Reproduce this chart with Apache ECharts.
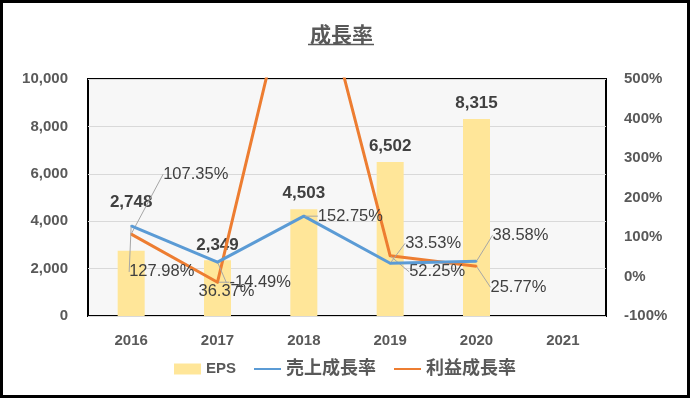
<!DOCTYPE html>
<html>
<head>
<meta charset="utf-8">
<script src="https://cdn.jsdelivr.net/npm/echarts@6/dist/echarts.min.js"></script>
<style>
  html, body { margin: 0; padding: 0; background: #fff; }
  #growthChart { width: 690px; height: 398px; }
</style>
</head>
<body>
<div id="growthChart"></div>
<script>
  // データ
  const years = ['2016', '2017', '2018', '2019', '2020', '2021']
  const eps = [2748, 2349, 4503, 6502, 8315, null]
  const salesGrowth = [127.98, 36.37, 152.75, 33.53, 38.58, null]
  const profitGrowth = [107.35, -14.49, 900, 52.25, 25.77, null]

  const FONT = "'Liberation Sans', 'Noto Sans CJK JP', sans-serif"
  const AXIS_COLOR = '#595959'
  const LABEL_COLOR = '#404040'

  // ラベル位置の調整 (Excel で手動移動されたもの)
  const barLabelShift = [[0, -33], [0, 0], [0, 0], [0, 0], [0, 0]]
  const salesLabelShift = [[-8, 46], [-25, 29], [8, 0], [9, -20], [10, -26]]
  const profitLabelShift = [[26, -60], [6, 0], [0, 0], [13, 16], [8, 21]]

  function shiftBy(table) {
    return function (params) {
      const s = table[params.dataIndex] || [0, 0]
      return { dx: s[0], dy: s[1] }
    }
  }

  function pctLabel(p) {
    if (p.value == null || p.value > 500) return ''
    return p.value.toFixed(2) + '%'
  }

  let growthChart = echarts.init(document.getElementById('growthChart'))
  growthChart.setOption({
    animation: false,
    textStyle: { fontFamily: FONT },
    title: {
      text: '成長率',
      left: 305,
      top: 21,
      textStyle: { fontSize: 21, fontWeight: 'bold', color: AXIS_COLOR, fontFamily: FONT }
    },
    graphic: [
      // タイトルの下線
      { type: 'line', shape: { x1: 308, y1: 44.5, x2: 374, y2: 44.5 }, style: { stroke: AXIS_COLOR, lineWidth: 1.5 } },
      // 外枠
      { type: 'rect', shape: { x: 1.5, y: 1.5, width: 687, height: 395 }, style: { fill: null, stroke: '#000', lineWidth: 3 }, z: 100 }
    ],
    legend: {
      bottom: 15,
      left: 'center',
      itemWidth: 27,
      itemHeight: 11,
      itemGap: 17,
      formatter: name => name === 'EPS' ? '{e|EPS}' : name,
      textStyle: {
        fontSize: 18, fontWeight: 'bold', color: AXIS_COLOR, fontFamily: FONT,
        rich: { e: { fontSize: 15, fontWeight: 'bold', color: AXIS_COLOR, fontFamily: FONT } }
      },
      data: [
        { name: 'EPS', icon: 'rect' },
        { name: '売上成長率', itemStyle: { opacity: 0 } },
        { name: '利益成長率', itemStyle: { opacity: 0 } }
      ]
    },
    grid: {
      left: 88, right: 84, top: 79, bottom: 82,
      show: true,
      backgroundColor: '#F7F7F7',
      borderColor: '#000',
      borderWidth: 2
    },
    xAxis: {
      type: 'category',
      data: years,
      axisLine: { show: false },
      axisTick: { show: false },
      axisLabel: { margin: 17, fontSize: 15, fontWeight: 'bold', color: AXIS_COLOR }
    },
    yAxis: [
      {
        type: 'value', min: 0, max: 10000, interval: 2000,
        axisLabel: {
          margin: 20, fontSize: 15, fontWeight: 'bold', color: AXIS_COLOR,
          formatter: v => v.toLocaleString('en-US')
        },
        splitLine: { lineStyle: { color: '#D9D9D9', width: 1 } }
      },
      {
        type: 'value', min: -100, max: 500, interval: 100,
        axisLabel: { margin: 18, fontSize: 15, fontWeight: 'bold', color: AXIS_COLOR, formatter: '{value}%' },
        splitLine: { show: false }
      }
    ],
    series: [
      {
        name: 'EPS',
        type: 'bar',
        data: eps,
        barWidth: 27,
        itemStyle: { color: '#FFE699' },
        label: {
          show: true, position: 'top', distance: 7,
          fontSize: 17, fontWeight: 'bold', color: LABEL_COLOR,
          formatter: p => p.value.toLocaleString('en-US')
        },
        labelLayout: shiftBy(barLabelShift)
      },
      {
        name: '売上成長率',
        type: 'line',
        yAxisIndex: 1,
        data: salesGrowth,
        color: '#5B9BD5',
        symbol: 'circle',
        symbolSize: 2,
        lineStyle: { width: 3, color: '#5B9BD5', join: 'round' },
        label: { show: true, position: 'right', distance: 5, fontSize: 16.5, color: LABEL_COLOR, formatter: pctLabel },
        labelLine: { show: true, lineStyle: { color: '#A6A6A6', width: 1 } },
        labelLayout: shiftBy(salesLabelShift),
        z: 3
      },
      {
        name: '利益成長率',
        type: 'line',
        yAxisIndex: 1,
        data: profitGrowth,
        color: '#ED7D31',
        symbol: 'circle',
        symbolSize: 2,
        clip: true,
        lineStyle: { width: 3, color: '#ED7D31', join: 'round' },
        label: { show: true, position: 'right', distance: 5, fontSize: 16.5, color: LABEL_COLOR, formatter: pctLabel },
        labelLine: { show: true, lineStyle: { color: '#A6A6A6', width: 1 } },
        labelLayout: shiftBy(profitLabelShift),
        z: 2
      }
    ]
  })
</script>
</body>
</html>
